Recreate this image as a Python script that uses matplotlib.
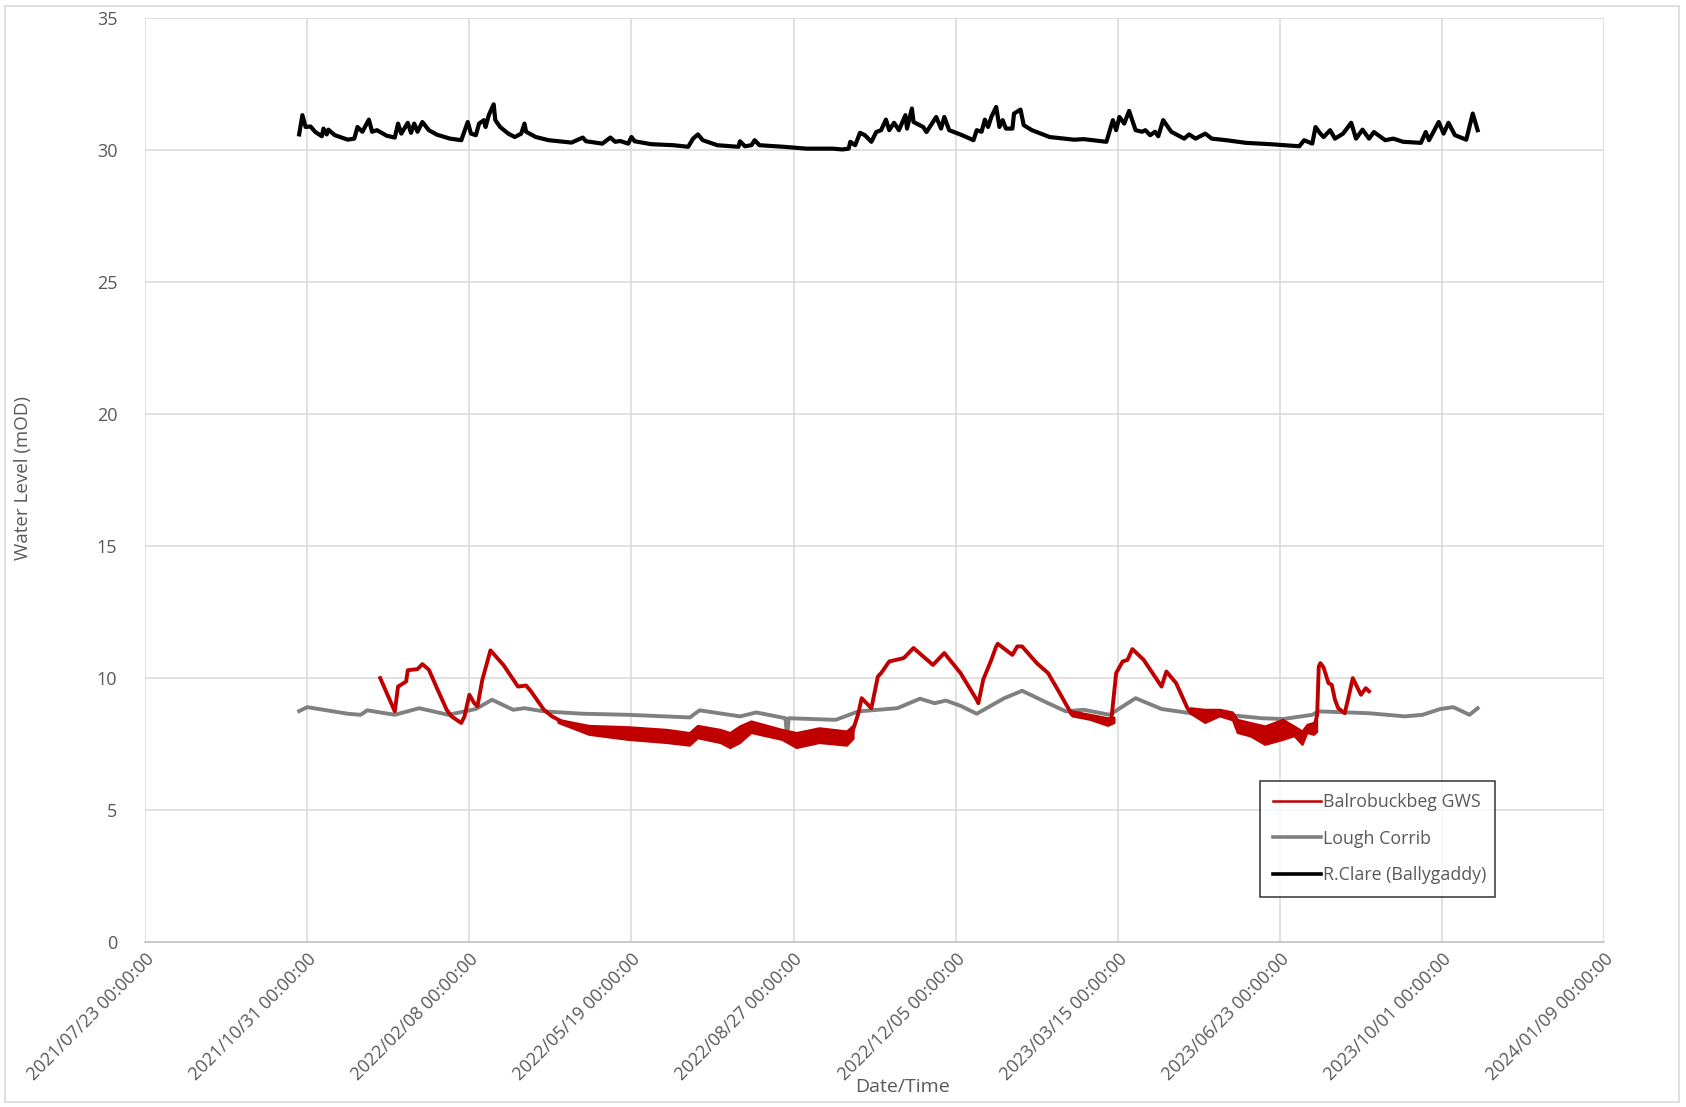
import numpy as np
import matplotlib
matplotlib.use("Agg")
import matplotlib.pyplot as plt
import matplotlib.dates as mdates
from matplotlib.patches import Rectangle
from matplotlib.lines import Line2D

plt.rcParams['font.family'] = ['Open Sans', 'DejaVu Sans']

START = np.datetime64('2021-07-23')

# ---- R.Clare (Ballygaddy): days since 2021-07-23, level (mOD)
clare_day = [95, 97, 99, 102, 105, 109, 110, 112, 113, 117, 125, 129, 131, 134, 138, 140, 143, 149,
             154, 156, 158, 162, 164, 166, 168, 171, 175, 180, 188, 195, 199, 201, 204, 206, 209, 210,
             212, 215, 216, 219, 224, 228, 232, 234, 235, 241, 249, 263, 270, 272, 282, 287, 290, 293,
             298, 300, 302, 312, 326, 335, 338, 341, 344, 353, 366, 367, 370, 374, 376, 379, 394, 408,
             424, 430, 434, 435, 438, 441, 444, 448, 451, 454, 457, 459, 462, 465, 469, 470, 473, 474,
             480, 482, 488, 491, 493, 496, 504, 511, 513, 516, 518, 520, 522, 525, 527, 529, 531, 535,
             536, 540, 542, 547, 558, 573, 579, 593, 597, 599, 601, 604, 607, 611, 615, 617, 620, 623,
             625, 628, 633, 641, 644, 648, 654, 658, 667, 679, 694, 712, 715, 720, 722, 725, 727, 731,
             734, 739, 744, 747, 751, 755, 758, 765, 770, 776, 787, 790, 792, 798, 801, 804, 808, 815,
             819, 822]
clare_lvl = [30.60, 31.33, 30.88, 30.90, 30.69, 30.53, 30.82, 30.60, 30.78, 30.57, 30.40, 30.44, 30.88,
             30.70, 31.16, 30.70, 30.76, 30.55, 30.48, 31.01, 30.63, 31.04, 30.66, 31.01, 30.70, 31.07,
             30.76, 30.59, 30.44, 30.38, 31.07, 30.63, 30.57, 31.01, 31.14, 30.88, 31.33, 31.74, 31.14,
             30.88, 30.63, 30.50, 30.63, 31.01, 30.70, 30.50, 30.38, 30.29, 30.48, 30.34, 30.25, 30.48,
             30.32, 30.35, 30.25, 30.50, 30.34, 30.23, 30.19, 30.13, 30.44, 30.60, 30.38, 30.19, 30.13,
             30.34, 30.15, 30.19, 30.38, 30.19, 30.13, 30.06, 30.06, 30.03, 30.06, 30.32, 30.19, 30.66,
             30.57, 30.32, 30.69, 30.76, 31.16, 30.76, 31.04, 30.76, 31.33, 30.82, 31.58, 31.07, 30.88,
             30.69, 31.26, 30.82, 31.26, 30.76, 30.57, 30.38, 30.76, 30.70, 31.16, 30.88, 31.26, 31.64,
             30.88, 31.14, 30.82, 30.82, 31.39, 31.54, 30.95, 30.76, 30.50, 30.40, 30.42, 30.32, 31.14,
             30.76, 31.26, 31.01, 31.49, 30.76, 30.70, 30.76, 30.57, 30.70, 30.53, 31.14, 30.70, 30.44,
             30.60, 30.44, 30.63, 30.44, 30.38, 30.28, 30.23, 30.15, 30.38, 30.25, 30.88, 30.63, 30.50,
             30.76, 30.44, 30.63, 31.04, 30.44, 30.78, 30.44, 30.69, 30.38, 30.44, 30.32, 30.28, 30.69,
             30.38, 31.07, 30.63, 31.04, 30.57, 30.40, 31.39, 30.76]

# ---- Lough Corrib
corrib_day = [95, 100, 110, 125, 133, 137, 154, 169, 187, 204, 214, 227, 234, 246, 270, 298, 336, 342,
              367, 377, 395, 396, 397, 426, 440, 464, 478, 487, 494, 503, 513, 530, 541, 557, 568, 579,
              595, 611, 627, 645, 667, 689, 702, 720, 724, 755, 777, 788, 799, 807, 817, 822]
corrib_lvl = [8.75, 8.90, 8.80, 8.65, 8.61, 8.78, 8.61, 8.86, 8.61, 8.83, 9.18, 8.80, 8.86, 8.74, 8.65,
              8.61, 8.51, 8.78, 8.55, 8.70, 8.48, 7.76, 8.48, 8.42, 8.74, 8.86, 9.22, 9.05, 9.15, 8.95,
              8.65, 9.24, 9.52, 9.05, 8.74, 8.80, 8.61, 9.24, 8.83, 8.67, 8.61, 8.48, 8.45, 8.61, 8.74,
              8.67, 8.55, 8.61, 8.83, 8.90, 8.61, 8.86]

# ---- Balrobuckbeg GWS (main trace)
gws_day = [145, 154, 156, 161, 162, 168, 171, 175, 180, 186, 189, 195, 197, 200, 203, 205, 208, 213,
           221, 230, 235, 238, 246, 251, 258, 274, 298, 322, 336, 341, 355, 361, 367, 374, 393, 402,
           416, 433, 436, 440, 442, 448, 452, 454, 459, 468, 474, 486, 493, 503, 513, 514, 517, 522,
           525, 526, 535, 538, 541, 550, 557, 563, 570, 572, 583, 594, 596, 599, 603, 606, 609, 616,
           627, 630, 636, 643, 645, 654, 663, 671, 674, 682, 691, 702, 709, 714, 717, 721, 723, 724,
           725, 727, 730, 732, 734, 736, 740, 742, 745, 750, 753, 755]
gws_lvl = [10.00, 8.74, 9.68, 9.87, 10.30, 10.34, 10.53, 10.32, 9.62, 8.80, 8.55, 8.30, 8.55, 9.37,
           9.05, 8.93, 9.94, 11.05, 10.50, 9.68, 9.72, 9.50, 8.80, 8.55, 8.32, 8.02, 7.90, 7.80, 7.68,
           7.96, 7.80, 7.64, 7.86, 8.14, 7.85, 7.64, 7.82, 7.71, 7.90, 8.67, 9.24, 8.86, 10.06, 10.19,
           10.63, 10.76, 11.14, 10.50, 10.95, 10.19, 9.18, 9.05, 9.94, 10.69, 11.20, 11.30, 10.88, 11.20,
           11.20, 10.57, 10.19, 9.56, 8.80, 8.65, 8.52, 8.34, 8.40, 10.19, 10.63, 10.69, 11.10, 10.69,
           9.68, 10.25, 9.81, 8.86, 8.70, 8.55, 8.68, 8.55, 8.17, 8.05, 7.82, 8.04, 7.90, 7.72, 8.08,
           8.08, 8.60, 10.44, 10.57, 10.40, 9.81, 9.75, 9.18, 8.86, 8.67, 9.18, 10.00, 9.37, 9.62, 9.50]

# ---- Balrobuckbeg GWS daily fluctuation envelope (low / high)
band_day = [255, 274, 298, 322, 336, 341, 355, 361, 367, 374, 393, 402, 416, 433, 437, None,
            570, 572, 583, 594, 598, None,
            645, 654, 663, 671, 674, 682, 691, 702, 709, 714, 717, 721, 723]
band_lo = [8.30, 7.85, 7.66, 7.54, 7.44, 7.72, 7.54, 7.35, 7.54, 7.92, 7.66, 7.35, 7.54, 7.44, 7.70, None,
           8.70, 8.55, 8.42, 8.19, 8.30, None,
           8.65, 8.30, 8.55, 8.40, 7.92, 7.79, 7.47, 7.66, 7.80, 7.47, 7.92, 7.85, 7.95]
band_hi = [8.42, 8.19, 8.14, 8.04, 7.92, 8.19, 8.04, 7.92, 8.17, 8.36, 8.04, 7.92, 8.10, 7.98, 8.20, None,
           8.80, 8.74, 8.61, 8.48, 8.50, None,
           8.86, 8.80, 8.80, 8.70, 8.42, 8.30, 8.17, 8.42, 8.17, 7.98, 8.23, 8.30, 8.40]

x_tick_days = list(range(0, 901, 100))
y_ticks = [0, 5, 10, 15, 20, 25, 30, 35]


def to_dates(days):
    return np.array([START + np.timedelta64(int(d), 'D') if d is not None else np.datetime64('NaT')
                     for d in days], dtype='datetime64[D]').astype('datetime64[ms]')


def to_vals(v):
    return np.array([np.nan if a is None else a for a in v], dtype=float)


fig = plt.figure(figsize=(16.86, 11.07), dpi=100)
ax = fig.add_axes([0.0861, 0.149, 0.8653, 0.8345])

RED = '#c00000'
GRAY = '#808080'
TXT = '#595959'

ax.plot(to_dates(corrib_day), corrib_lvl, color=GRAY, lw=2.8, zorder=3, solid_joinstyle='round')
bd = to_dates(band_day)
ax.fill_between(bd, to_vals(band_lo), to_vals(band_hi), color=RED, lw=1.5, edgecolor=RED, zorder=4)
ax.plot(to_dates(gws_day), gws_lvl, color=RED, lw=2.8, zorder=4, solid_joinstyle='round')
ax.plot(to_dates(clare_day), clare_lvl, color='black', lw=3.0, zorder=5, solid_joinstyle='round')

ax.set_xlim(to_dates([0])[0], to_dates([900])[0])
ax.set_ylim(0, 35)
ax.set_yticks(y_ticks)
ax.set_xticks(to_dates(x_tick_days))
ax.xaxis.set_major_formatter(mdates.DateFormatter('%Y/%m/%d 00:00:00'))
ax.grid(True, color='#d9d9d9', lw=1.1, zorder=0)
ax.set_axisbelow(True)
for s in ['top', 'right', 'left']:
    ax.spines[s].set_visible(False)
ax.spines['bottom'].set_color('#bfbfbf')
ax.spines['bottom'].set_linewidth(1.1)
ax.tick_params(axis='both', length=0, colors=TXT, labelsize=13)
ax.tick_params(axis='y', pad=20)
ax.tick_params(axis='x', pad=6)
for lab in ax.get_xticklabels():
    lab.set_rotation(45)
    lab.set_ha('right')
    lab.set_va('top')
    lab.set_rotation_mode('anchor')

fig.text(0.0135, 0.568, 'Water Level (mOD)', rotation=90, ha='center', va='center',
         color=TXT, fontsize=13.5)
fig.text(0.535, 0.018, 'Date/Time', ha='center', va='center', color=TXT, fontsize=14)

handles = [Line2D([], [], color=RED, lw=1.8),
           Line2D([], [], color=GRAY, lw=2.6),
           Line2D([], [], color='black', lw=2.6)]
leg = ax.legend(handles, ['Balrobuckbeg GWS', 'Lough Corrib', 'R.Clare (Ballygaddy)'],
                loc='lower left', bbox_to_anchor=(0.7645, 0.049, 0.161, 0.138), mode='expand',
                frameon=True, fancybox=False, edgecolor='black', fontsize=12.8,
                handlelength=2.7, handletextpad=0.1, labelspacing=1.05, borderpad=0.7,
                borderaxespad=0)
leg.get_frame().set_linewidth(1.1)
for t in leg.get_texts():
    t.set_color(TXT)

fig.patches.append(Rectangle((0.003, 0.0045), 0.993, 0.990, transform=fig.transFigure,
                             fill=False, edgecolor='#d9d9d9', lw=1.2))

fig.savefig('out.png', dpi=100, facecolor='white')
